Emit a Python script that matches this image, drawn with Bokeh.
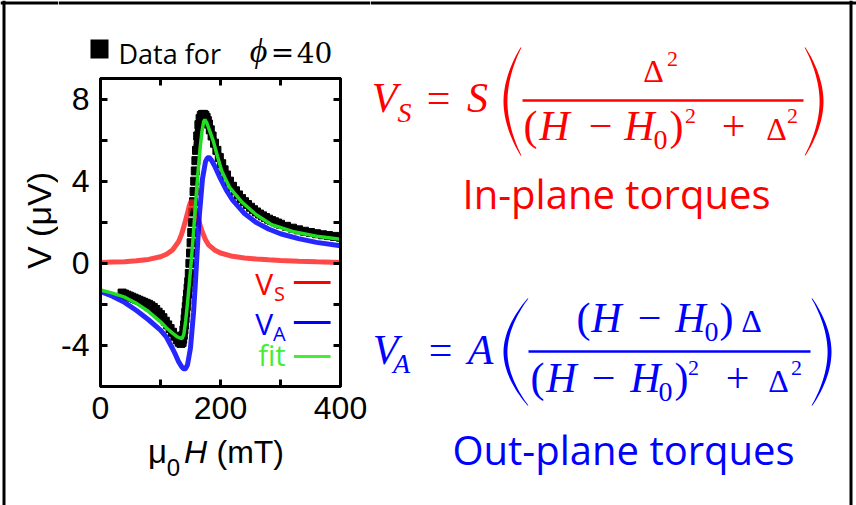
import numpy as np
from bokeh.plotting import figure
from bokeh.layouts import row, column
from bokeh.models import Range1d, LinearAxis, FixedTicker, ColumnDataSource
from bokeh.core.properties import field
from bokeh.embed import file_html
from bokeh.resources import INLINE

# ---------------- data ----------------
# V_S (symmetric Lorentzian part), field in mT, voltage in uV
field_s = [0, 20, 40, 60, 80, 100, 110, 120, 130, 135, 140, 145, 148, 150, 152, 154, 156,
           160, 165, 170, 175, 180, 190, 200, 220, 240, 260, 280, 300, 330, 360, 400]
vs = [0.04, 0.06, 0.08, 0.12, 0.19, 0.32, 0.44, 0.65, 1.05, 1.4, 1.9, 2.45, 2.8, 2.97, 3.05, 2.97, 2.8,
      2.4, 1.95, 1.5, 1.15, 0.9, 0.65, 0.5, 0.34, 0.26, 0.21, 0.17, 0.14, 0.1, 0.07, 0.04]

# V_A (antisymmetric part)
field_a = [0, 20, 40, 60, 80, 100, 110, 120, 125, 130, 135, 138, 140, 142, 145, 150, 155, 158,
           160, 162, 165, 170, 175, 178, 180, 182, 185, 190, 200, 210, 220, 240, 260, 280,
           300, 330, 360, 400]
va = [-1.37, -1.6, -1.9, -2.3, -2.75, -3.25, -3.6, -4.15, -4.45, -4.78, -5.03, -5.12, -5.15,
      -5.12, -4.95, -4.12, -2.42, -1.02, 0.0, 1.02, 2.42, 4.12, 4.95, 5.12, 5.15, 5.13, 5.02,
      4.75, 4.12, 3.55, 3.09, 2.42, 1.98, 1.67, 1.44, 1.2, 1.02, 0.85]

# fit
field_fit = [0, 20, 40, 50, 60, 80, 100, 110, 120, 128, 133, 136, 139, 142, 145, 148, 151, 154,
             157, 160, 163, 166, 169, 172, 174, 177, 182, 188, 195, 202, 215, 235, 260, 284,
             320, 360, 400]
vfit = [-1.3, -1.45, -1.65, -1.8, -1.95, -2.35, -2.85, -3.15, -3.4, -3.58, -3.64, -3.66, -3.45,
        -2.8, -1.95, -1.0, 0.0, 1.1, 2.3, 3.5, 4.6, 5.6, 6.4, 6.9, 7.0, 6.85, 6.45, 5.95, 5.2,
        4.5, 3.7, 3.0, 2.35, 1.9, 1.55, 1.32, 1.17]

# measured data for phi = 40
field_data = [36, 40, 44, 48, 52, 56, 60, 64, 68, 72, 76, 80, 84, 88, 92, 96, 100, 104, 108, 112,
              116, 120, 124, 128, 131, 134, 136, 137, 138, 139, 140, 141, 142, 143, 144, 145, 146,
              147, 148, 149, 150, 151, 152, 153, 154, 155, 156, 157, 158, 159, 160, 162, 164, 166,
              168, 170, 172, 174, 176, 178, 180, 183, 186, 190, 194, 198, 202, 206, 210, 215, 220,
              225, 230, 235, 240, 245, 250, 255, 260, 265, 270, 275, 280, 285, 290, 295, 300, 310,
              320, 330, 340, 350, 360, 370, 380, 390, 400]
vdata = [-1.45, -1.5, -1.55, -1.6, -1.65, -1.7, -1.75, -1.8, -1.85, -1.9, -1.95, -2.0, -2.07,
         -2.15, -2.25, -2.38, -2.5, -2.65, -2.82, -3.0, -3.18, -3.36, -3.55, -3.72, -3.84, -3.9,
         -3.85, -3.7, -3.5, -3.25, -3.0, -2.7, -2.4, -2.1, -1.8, -1.5, -1.2, -0.9, -0.5, 0.0, 0.5,
         1.0, 1.5, 2.0, 2.5, 3.0, 3.5, 4.0, 4.5, 5.0, 5.5, 6.2, 6.75, 7.05, 7.2, 7.25, 7.25, 7.2,
         7.1, 6.95, 6.78, 6.5, 6.2, 5.85, 5.5, 5.15, 4.85, 4.55, 4.3, 4.0, 3.75, 3.53, 3.33, 3.15,
         3.0, 2.86, 2.73, 2.61, 2.5, 2.4, 2.31, 2.23, 2.15, 2.08, 2.02, 1.96, 1.9, 1.8, 1.71, 1.63,
         1.56, 1.5, 1.44, 1.39, 1.35, 1.31, 1.27]

x_ticks = [0, 100, 200, 300, 400]
x_tick_labels = {0: "0", 100: "", 200: "200", 300: "", 400: "400"}
y_ticks = [-4, -2, 0, 2, 4, 6, 8]
y_tick_labels = {-4: "-4", -2: "", 0: "0", 2: "", 4: "4", 6: "", 8: "8"}

# ---------------- page geometry (window pixels) ----------------
W, H = 856, 505
SW = 58               # left strip width (y title)
CX = 370              # x where the equation panel starts
TH = 72               # height of the header strip above the chart
FL, FR, FT, FB = 98, 340, 78, 386    # chart frame edges
BB = 436              # bottom of the chart figure
X0, X1 = 0, 400
Y0, Y1 = -6, 9
BASE_SHIFT = 0.35     # measured offset of the rendered baseline, in em

RED = "#ff0000"
BLUE = "#0000ff"
GREEN = "#22dd22"
LGREEN = "#44ee33"


def dx(px):
    return X0 + (px - FL) * (X1 - X0) / (FR - FL)


def dy(py):
    return Y1 - (py - FT) * (Y1 - Y0) / (FB - FT)


def no_align(f):
    if "frame_align" in f.properties():
        f.frame_align = False


# ---------------- chart ----------------
B = figure(width=CX - SW, height=BB - TH, output_backend="svg", toolbar_location=None,
           x_range=Range1d(X0, X1), y_range=Range1d(Y0, Y1),
           min_border_left=FL - SW, min_border_right=CX - FR,
           min_border_top=FT - TH, min_border_bottom=BB - FB)
no_align(B)
B.xgrid.visible = False
B.ygrid.visible = False
B.outline_line_color = "black"
B.outline_line_width = 3
B.background_fill_color = "white"
B.border_fill_color = "white"


def style_axis(ax, labels, show):
    ax.axis_line_color = "black"
    ax.axis_line_width = 3
    ax.major_tick_in = 7
    ax.major_tick_out = 0
    ax.major_tick_line_width = 3
    ax.minor_tick_line_color = None
    ax.major_label_overrides = labels
    ax.major_label_text_font = "Liberation Sans"
    ax.major_label_text_font_size = "32px" if show else "0px"
    ax.major_label_text_color = "black"
    if not show:
        ax.major_label_standoff = 0


B.xaxis.ticker = FixedTicker(ticks=x_ticks)
B.yaxis.ticker = FixedTicker(ticks=y_ticks)
style_axis(B.xaxis[0], x_tick_labels, True)
style_axis(B.yaxis[0], y_tick_labels, True)
B.xaxis[0].major_label_standoff = 10
B.yaxis[0].major_label_standoff = 11

ax_r = LinearAxis(ticker=FixedTicker(ticks=y_ticks))
style_axis(ax_r, {t: "" for t in y_ticks}, False)
B.add_layout(ax_r, "right")
ax_t = LinearAxis(ticker=FixedTicker(ticks=x_ticks))
style_axis(ax_t, {t: "" for t in x_ticks}, False)
B.add_layout(ax_t, "above")

fd = np.array(field_data, dtype=float)
vd = np.array(vdata, dtype=float)
left_part = fd < 148
right_part = fd > 159
B.line(fd[left_part], vd[left_part], line_color="black", line_width=7)
B.line(fd[right_part], vd[right_part], line_color="black", line_width=7)
B.scatter(field_data, vdata, marker="square", size=8, fill_color="black", line_color="black")
B.line(field_s, vs, line_color="#ff1a1a", line_width=5, line_alpha=0.8)
B.line(field_a, va, line_color="#0000ff", line_width=5, line_alpha=0.85)
B.line(field_fit, vfit, line_color=GREEN, line_width=3.5)


# ---------------- text / decoration panels ----------------
def panel(x0, x1, y0, y1):
    f = figure(width=x1 - x0, height=y1 - y0, x_range=Range1d(x0, x1), y_range=Range1d(-y1, -y0),
               output_backend="svg", toolbar_location=None, min_border=0,
               x_axis_location=None, y_axis_location=None)
    no_align(f)
    f.xgrid.visible = False
    f.ygrid.visible = False
    f.outline_line_color = None
    f.background_fill_color = "white"
    f.border_fill_color = "white"
    return f


S = panel(0, SW, 0, H)          # left strip: y title
T = panel(SW, CX, 0, TH)        # header above chart
Bt = panel(SW, CX, BB, H)       # x title below chart
C = panel(CX, W, 0, H)          # equations


def new_items():
    return dict(texts=dict(x=[], y=[], text=[], size=[], color=[], font=[], style=[], align=[],
                           angle=[]),
                segs=dict(x0=[], y0=[], x1=[], y1=[], color=[], lw=[]),
                polys=[])


items = {"S": new_items(), "T": new_items(), "Bt": new_items(), "C": new_items(),
         "B": new_items()}


def conv(key, X, Y):
    if key == "B":
        return dx(X), dy(Y)
    return X, -Y


def txt(key, s, X, Y, size, color="black", font="Liberation Serif", style="normal",
        align="center", angle=0.0):
    # X, Y: wanted baseline position in window pixels
    if angle == 0.0:
        Y = Y - BASE_SHIFT * size
    else:
        X = X - BASE_SHIFT * size
    d = items[key]["texts"]
    x, y = conv(key, X, Y)
    d["x"].append(x)
    d["y"].append(y)
    d["text"].append(s)
    d["size"].append(f"{size}px")
    d["color"].append(color)
    d["font"].append(font)
    d["style"].append(style)
    d["align"].append(align)
    d["angle"].append(angle)


def seg(key, Xa, Ya, Xb, Yb, color, width):
    d = items[key]["segs"]
    xa, ya = conv(key, Xa, Ya)
    xb, yb = conv(key, Xb, Yb)
    d["x0"].append(xa)
    d["y0"].append(ya)
    d["x1"].append(xb)
    d["y1"].append(yb)
    d["color"].append(color)
    d["lw"].append(width)


def paren(key, tip_x, mid_x, top, bot, thick, color):
    t = np.linspace(0.0, 1.0, 41)
    s = np.abs(2 * t - 1)
    outer = mid_x + (tip_x - mid_x) * s ** 1.9
    direction = 1 if tip_x > mid_x else -1
    inner = outer + direction * (0.9 + thick * (1 - s ** 2))
    yy = top + t * (bot - top)
    xs = list(outer) + list(inner[::-1])
    ys = [-v for v in list(yy) + list(yy[::-1])]
    items[key]["polys"].append((xs, ys, color))


# outer frame of the figure panel
seg("S", 0, 2.5, SW, 2.5, "black", 3)
seg("S", 3.5, 0, 3.5, H, "black", 3)
seg("T", SW, 2.5, CX, 2.5, "black", 3)
seg("C", CX, 2.5, W, 2.5, "black", 3)
seg("C", 850.5, 0, 850.5, H, "black", 3)

# header legend: Data for phi=40
items["T"]["polys"].append(([90, 108, 108, 90], [-39, -39, -58, -58], "black"))
txt("T", "Data for", 118, 62, 27, font="Open Sans", align="left")
txt("T", "\u03d5", 258, 62, 34, style="italic")
txt("T", "=", 282, 62, 28, font="DejaVu Serif")
txt("T", "40", 314, 62, 28, font="DejaVu Serif")

# axis titles
txt("S", "V (\u03bcV)", 50, 220, 34, font="Liberation Sans", angle=np.pi / 2)
txt("Bt", "\u03bc", 157, 463, 33, font="Liberation Sans")
txt("Bt", "0", 173, 475, 24, font="Liberation Sans")
txt("Bt", "H", 195, 463, 32, font="Liberation Sans", style="italic")
txt("Bt", "(mT)", 216, 463, 32, font="Liberation Sans", align="left")

# in-plot legend
txt("B", "V", 254, 293, 30, RED, font="Open Sans", align="left")
txt("B", "S", 273, 300, 20, RED, font="Open Sans", align="left")
seg("B", 293, 282, 330, 282, RED, 3)
txt("B", "V", 254, 333, 30, BLUE, font="Open Sans", align="left")
txt("B", "A", 272, 340, 20, BLUE, font="Open Sans", align="left")
seg("B", 293, 322, 330, 322, BLUE, 3)
txt("B", "fit", 257, 364, 29, LGREEN, font="Open Sans", align="left")
seg("B", 293, 356, 330, 356, LGREEN, 3)

# equation for V_S
txt("C", "V", 384, 112, 42, RED, style="italic")
txt("C", "S", 404, 122, 28, RED, style="italic")
txt("C", "=", 438, 112, 42, RED)
txt("C", "S", 477, 112, 42, RED, style="italic")
paren("C", 520, 503, 47, 155, 3.0, RED)
paren("C", 805, 823, 47, 155, 3.0, RED)
seg("C", 522, 100, 803, 100, RED, 2.5)
txt("C", "\u0394", 653, 82, 32, RED)
txt("C", "2", 672, 66, 22, RED)
txt("C", "(", 530, 140, 42, RED)
txt("C", "H", 554, 140, 42, RED, style="italic")
txt("C", "\u2212", 600, 140, 42, RED)
txt("C", "H", 639, 140, 42, RED, style="italic")
txt("C", "0", 660, 149, 28, RED)
txt("C", ")", 676, 140, 42, RED)
txt("C", "2", 690, 123, 22, RED)
txt("C", "+", 733, 140, 42, RED)
txt("C", "\u0394", 776, 140, 32, RED)
txt("C", "2", 792, 123, 22, RED)
txt("C", "In-plane torques", 616, 207, 40, RED, font="Open Sans")

# equation for V_A
txt("C", "V", 385, 364, 42, BLUE, style="italic")
txt("C", "A", 401, 373, 28, BLUE, style="italic")
txt("C", "=", 440, 364, 42, BLUE)
txt("C", "A", 480, 364, 42, BLUE, style="italic")
paren("C", 527, 503, 298, 405, 3.0, BLUE)
paren("C", 812, 831, 298, 405, 3.0, BLUE)
seg("C", 528, 351, 810, 351, BLUE, 2.5)
txt("C", "(", 583, 332, 42, BLUE)
txt("C", "H", 606, 332, 42, BLUE, style="italic")
txt("C", "\u2212", 649, 332, 42, BLUE)
txt("C", "H", 690, 332, 42, BLUE, style="italic")
txt("C", "0", 711, 341, 28, BLUE)
txt("C", ")", 726, 332, 42, BLUE)
txt("C", "\u0394", 751, 332, 32, BLUE)
txt("C", "(", 537, 392, 42, BLUE)
txt("C", "H", 561, 392, 42, BLUE, style="italic")
txt("C", "\u2212", 603, 392, 42, BLUE)
txt("C", "H", 645, 392, 42, BLUE, style="italic")
txt("C", "0", 665, 401, 28, BLUE)
txt("C", ")", 681, 392, 42, BLUE)
txt("C", "2", 693, 375, 22, BLUE)
txt("C", "+", 737, 392, 42, BLUE)
txt("C", "\u0394", 778, 392, 32, BLUE)
txt("C", "2", 796, 375, 22, BLUE)
txt("C", "Out-plane torques", 623, 463, 40, BLUE, font="Open Sans")

# ---------------- render items into their figures ----------------
for key, fig in (("S", S), ("T", T), ("Bt", Bt), ("C", C), ("B", B)):
    it = items[key]
    for xs, ys, col in it["polys"]:
        fig.patch(xs, ys, fill_color=col, line_color=None)
    if it["segs"]["x0"]:
        fig.segment(x0="x0", y0="y0", x1="x1", y1="y1", source=ColumnDataSource(it["segs"]),
                    line_color=field("color"), line_width=field("lw"))
    if it["texts"]["x"]:
        fig.text(x="x", y="y", text="text", source=ColumnDataSource(it["texts"]),
                 text_font=field("font"), text_font_size=field("size"),
                 text_font_style=field("style"), text_color=field("color"),
                 text_align=field("align"), text_baseline="alphabetic", angle=field("angle"))

layout = row(S, column(T, B, Bt), C)
open("out.html", "w").write(file_html(layout, INLINE))
